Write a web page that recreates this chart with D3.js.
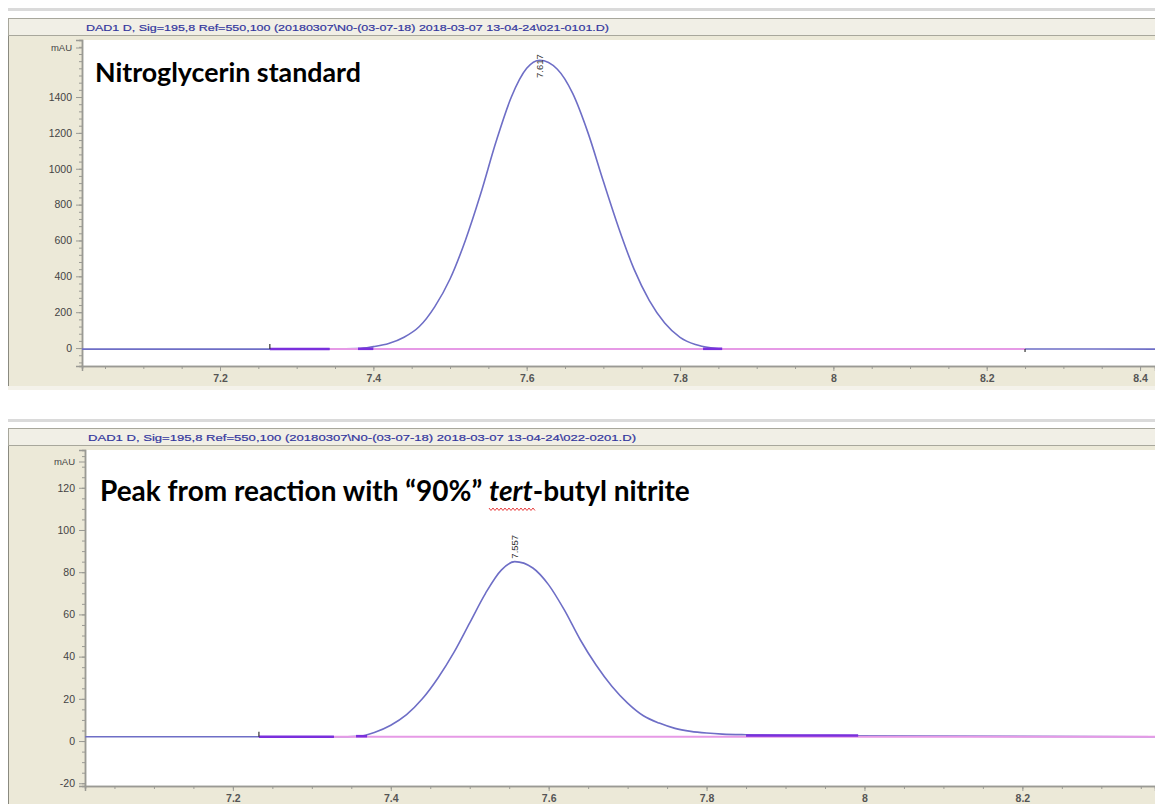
<!DOCTYPE html>
<html><head><meta charset="utf-8">
<script src="https://cdn.jsdelivr.net/npm/d3@7"></script>
<style>html,body{margin:0;padding:0;background:#fff;}svg{display:block;}</style>
</head><body>
<svg id="c" width="1155" height="804"></svg>
<script>
// ---------- DATA ----------
const topTitle = "DAD1 D, Sig=195,8 Ref=550,100 (20180307\\N0-(03-07-18) 2018-03-07 13-04-24\\021-0101.D)";
const botTitle = "DAD1 D, Sig=195,8 Ref=550,100 (20180307\\N0-(03-07-18) 2018-03-07 13-04-24\\022-0201.D)";
const topAnnotation = "Nitroglycerin standard";
const xTickValues = [7.2, 7.4, 7.6, 7.8, 8, 8.2, 8.4];
const topYTicks = [0, 200, 400, 600, 800, 1000, 1200, 1400];
const botYTicks = [-20, 0, 20, 40, 60, 80, 100, 120];
const topXDomain = [7.02, 8.4195];
const topYDomain = [-100, 1718];
const botXDomain = [7.0127, 8.368];
const botYDomain = [-21.3, 137.9];
// signal: retention time (min) and absorbance (mAU)
const topTimes  = [7.02, 7.265, 7.34, 7.38, 7.40, 7.42, 7.44, 7.46, 7.48, 7.50, 7.52, 7.54, 7.56, 7.58, 7.60, 7.617, 7.64, 7.66, 7.68, 7.70, 7.72, 7.74, 7.76, 7.78, 7.80, 7.82, 7.84, 7.86, 8.25, 8.42];
const topValues = [-6, -6, -5, -3, 8, 25, 60, 120, 230, 385, 600, 860, 1150, 1400, 1560, 1605, 1555, 1420, 1200, 930, 670, 440, 265, 140, 60, 20, 2, -5, -5, -6];
const botTimes  = [7.013, 7.233, 7.33, 7.36, 7.38, 7.40, 7.42, 7.44, 7.46, 7.48, 7.50, 7.52, 7.54, 7.557, 7.58, 7.60, 7.62, 7.64, 7.66, 7.68, 7.70, 7.72, 7.74, 7.76, 7.78, 7.80, 7.82, 7.85, 7.99, 8.368];
const botValues = [2, 2, 2, 2.3, 4.2, 7.5, 12.5, 20, 30, 42, 56, 70, 81, 85, 82, 74, 62, 48, 36, 26, 18, 12, 8.5, 6, 4.6, 3.8, 3.3, 3, 2.5, 2];
// peaks
const topPeak = {rt: 7.617, label: "7.617", height: 1605};
const botPeak = {rt: 7.557, label: "7.557", height: 85};
// integration baselines [start, end, level]
const topBaseline = [7.343, 8.25, -5];
const botBaseline = [7.328, 8.368, 2];
// highlighted (overlap) segments [start, end, level]
const topHighlights = [[7.265, 7.343, -5], [7.38, 7.40, -4], [7.83, 7.855, -4]];
const botHighlights = [[7.233, 7.328, 2], [7.356, 7.37, 2.3], [7.85, 7.992, 2.6]];
const topMarks = [7.265, 8.25];
const botMarks = [7.233];

// ---------- DRAW ----------
const svg = d3.select("#c");
const BEIGE = "#ECE9D8";
const AX_FONT = "Liberation Sans, Arial, sans-serif";

function panel(cfg) {
  const g = svg.append("g");
  g.append("rect").attr("x", 8).attr("y", cfg.sepY).attr("width", 1147).attr("height", 3).attr("fill", "#dadada");
  g.append("rect").attr("x", 8).attr("y", cfg.titleY).attr("width", 1147).attr("height", cfg.panelBottom - cfg.titleY).attr("fill", BEIGE);
  g.append("rect").attr("x", 8).attr("y", cfg.panelBottom).attr("width", 1147).attr("height", 4).attr("fill", "#f4f2ea");
  g.append("rect").attr("x", 8.5).attr("y", cfg.titleY + 0.5).attr("width", 1147).attr("height", 17)
    .attr("fill", "#F1EFE6").attr("stroke", "#a8a79c");
  g.append("text").attr("x", cfg.titleX).attr("y", cfg.titleY + 12.5)
    .attr("font-family", AX_FONT).attr("font-size", 9.5)
    .attr("fill", "#33379e").attr("stroke", "#33379e").attr("stroke-width", 0.2).text(cfg.title)
    .attr("textLength", cfg.titleW).attr("lengthAdjust", "spacingAndGlyphs");
  g.append("line").attr("x1", 8.5).attr("x2", 8.5).attr("y1", cfg.titleY + 18).attr("y2", cfg.panelBottom)
    .attr("stroke", "#8a8a80").attr("stroke-width", 1);
  const x = d3.scaleLinear().domain(cfg.xDomain).range([cfg.left, 1155]);
  const y = d3.scaleLinear().domain(cfg.yDomain).range([cfg.bottom, cfg.top]);
  g.append("rect").attr("x", cfg.left).attr("y", cfg.top).attr("width", 1155 - cfg.left).attr("height", cfg.bottom - cfg.top).attr("fill", "#fff");

  const yAxis = d3.axisLeft(y).tickValues(cfg.yTicks).tickSize(6).tickPadding(4).tickFormat(d => String(d));
  const ya = g.append("g").attr("transform", `translate(${cfg.left},0)`).call(yAxis);
  const yMinorVals = d3.range(Math.ceil(cfg.yDomain[0] / cfg.yMinor) * cfg.yMinor, cfg.yDomain[1], cfg.yMinor);
  const ym = g.append("g").attr("transform", `translate(${cfg.left},0)`).call(d3.axisLeft(y).tickValues(yMinorVals).tickSize(3).tickFormat(""));
  const xVals = xTickValues.filter(v => x(v) <= 1165);
  const xa = g.append("g").attr("transform", `translate(0,${cfg.bottom})`).call(d3.axisBottom(x).tickValues(xVals).tickSize(5).tickPadding(4).tickFormat(d => String(d)));
  const xMinorVals = d3.range(7.0, 8.5, 0.05).map(v => +v.toFixed(2)).filter(v => x(v) >= cfg.left && x(v) <= 1155);
  const xm = g.append("g").attr("transform", `translate(0,${cfg.bottom})`).call(d3.axisBottom(x).tickValues(xMinorVals).tickSize(3).tickFormat(""));
  [ya, ym, xa, xm].forEach(a => {
    a.select(".domain").attr("stroke", "#9a9a94").attr("stroke-width", 1.5);
    a.selectAll(".tick line").attr("stroke", "#9a9a94");
    a.selectAll("text").attr("font-family", AX_FONT).attr("font-size", 10.5).attr("fill", "#444");
  });
  xa.selectAll("text").attr("font-weight", "bold").attr("fill", "#555");
  g.append("text").attr("x", cfg.left - 10).attr("y", cfg.mauY).attr("dy", "0.32em").attr("text-anchor", "end")
    .attr("font-family", AX_FONT).attr("font-size", 9.5).attr("fill", "#444").text("mAU");
  g.append("line").attr("x1", cfg.left - 6).attr("x2", cfg.left).attr("y1", cfg.mauY).attr("y2", cfg.mauY).attr("stroke", "#9a9a94");

  const pts = cfg.times.map((t, i) => [t, cfg.values[i]]);
  const line = d3.line().x(d => x(d[0])).y(d => y(d[1])).curve(d3.curveMonotoneX);
  g.append("path").attr("d", line(pts)).attr("fill", "none").attr("stroke", "#6e6ec6").attr("stroke-width", 1.6);
  const bl = cfg.baseline;
  g.append("line").attr("x1", x(bl[0])).attr("x2", x(bl[1])).attr("y1", y(bl[2])).attr("y2", y(bl[2]))
    .attr("stroke", "#e69ae6").attr("stroke-width", 2);
  cfg.highlights.forEach(h => {
    g.append("line").attr("x1", x(h[0])).attr("x2", x(h[1])).attr("y1", y(h[2])).attr("y2", y(h[2]))
      .attr("stroke", "#7a2fdc").attr("stroke-width", 2.6);
  });
  cfg.marks.forEach((m, i) => {
    const yy = y(bl[2]);
    g.append("line").attr("x1", x(m)).attr("x2", x(m)).attr("y1", yy - (i === 0 ? 5 : -3)).attr("y2", yy)
      .attr("stroke", "#333").attr("stroke-width", 1.2);
  });
  const pk = cfg.peak;
  const py = Math.max(y(pk.height) - 3, cfg.top + 38);
  g.append("text").attr("transform", `translate(${x(pk.rt) + 3},${py}) rotate(-90)`)
    .attr("font-family", AX_FONT).attr("font-size", 9.5).attr("fill", "#333").text(pk.label);
  return {g, x, y};
}

panel({sepY: 8, titleY: 18, panelBottom: 386, title: topTitle, titleX: 86, titleW: 523,
  left: 82, top: 40, bottom: 366, xDomain: topXDomain, yDomain: topYDomain, yTicks: topYTicks, yMinor: 40, mauY: 48,
  times: topTimes, values: topValues, baseline: topBaseline, highlights: topHighlights, marks: topMarks, peak: topPeak});
panel({sepY: 419, titleY: 428, panelBottom: 804, title: botTitle, titleX: 88, titleW: 548,
  left: 85, top: 450, bottom: 786, xDomain: botXDomain, yDomain: botYDomain, yTicks: botYTicks, yMinor: 5, mauY: 462,
  times: botTimes, values: botValues, baseline: botBaseline, highlights: botHighlights, marks: botMarks, peak: botPeak});

// annotations
const FONT = "Lato, 'Open Sans', sans-serif";
function fit(sel, target) {
  const w = sel.node().getComputedTextLength();
  const fs = +sel.attr("font-size");
  sel.attr("font-size", fs * target / w);
}
const a1 = svg.append("text").attr("x", 95).attr("y", 82).attr("font-family", FONT).attr("font-weight", "bold")
  .attr("font-size", 24).attr("fill", "#000").text(topAnnotation);
fit(a1, 266);
const a2 = svg.append("text").attr("x", 100).attr("y", 501).attr("font-family", FONT).attr("font-weight", "bold")
  .attr("font-size", 24).attr("fill", "#000");
a2.append("tspan").text("Peak from reaction with “90%” ");
a2.append("tspan").attr("font-style", "italic").text("tert");
a2.append("tspan").text("-butyl nitrite");
fit(a2, 590);
{
  const n = a2.node();
  const s = n.getStartPositionOfChar(30), e = n.getEndPositionOfChar(33);
  const pts = [];
  for (let xx = s.x; xx <= e.x + 3; xx += 2) pts.push([xx, 509 + ((Math.round((xx - s.x) / 2) % 2) ? 1.5 : -1)]);
  svg.append("path").attr("d", d3.line()(pts)).attr("fill", "none").attr("stroke", "#e84040").attr("stroke-width", 1);
}
</script>
</body></html>
